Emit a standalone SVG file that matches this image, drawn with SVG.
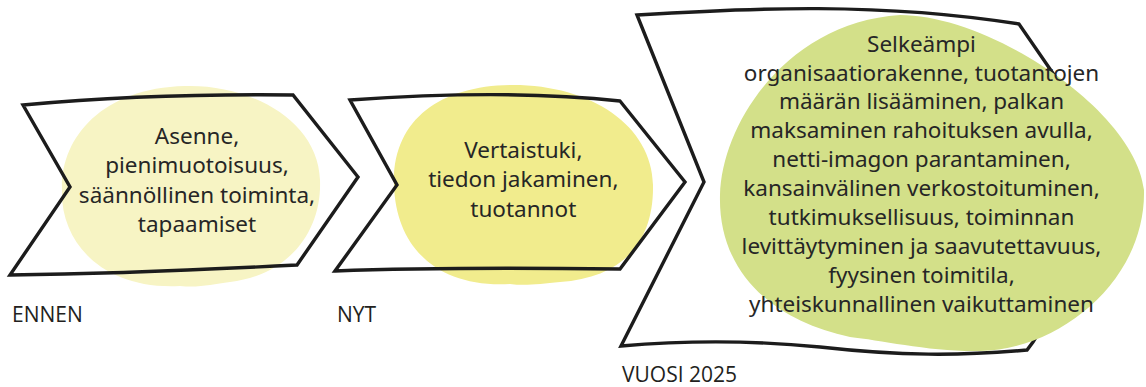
<svg xmlns="http://www.w3.org/2000/svg" width="1146" height="387" viewBox="0 0 1146 387">
<style>
.outline{fill:none;stroke:#1c1c1c;stroke-width:3.4;stroke-linejoin:miter;stroke-miterlimit:10}
.body{font-family:"Noto Sans",Lato,sans-serif;font-size:22.5px;fill:#262626;text-anchor:middle}
.label{font-family:"Open Sans","DejaVu Sans Condensed",sans-serif;font-size:21px;fill:#231f20}
</style>
<rect width="1146" height="387" fill="#ffffff"/>
<g id="node-ennen">
<path d="M62 190 C60 140 100 88 185 86 C250 84 318 120 320 180 C322 230 290 275 230 282 C212 284 200 288 180 286 C100 290 60 240 62 190 Z" fill="#f7f4c4"/>
<path class="outline" d="M23 105 C100 98 200 94 293 95 L358 177 L297 265 C200 270 100 274 10 275 L70 187 Z"/>
<text class="body" x="197" y="144">Asenne,</text>
<text class="body" x="197" y="173.3">pienimuotoisuus,</text>
<text class="body" x="197" y="202.7">säännöllinen toiminta,</text>
<text class="body" x="197" y="231.7">tapaamiset</text>
<text class="label" x="12" y="322">ENNEN</text>
</g>
<g id="node-nyt">
<path d="M394 185 C392 120 440 86 510 85 C590 84 652 125 653 185 C654 245 620 278 560 282 C540 284 525 286 510 284 C440 288 396 250 394 185 Z" fill="#f1ec8d"/>
<path class="outline" d="M350 100 C420 95 520 90 620 101 L685 182 L620 269 C540 268 440 267 335 271 L397 185 Z"/>
<text class="body" x="523.3" y="158.3">Vertaistuki,</text>
<text class="body" x="523.3" y="187.3">tiedon jakaminen,</text>
<text class="body" x="523.3" y="216.7">tuotannot</text>
<text class="label" x="337" y="322">NYT</text>
</g>
<g id="node-2025">
<path class="outline" d="M637 15 C750 8 880 2 1019 24 L1130 185 L1033 342 L1027 350 C960 356 900 356 820 347 C760 341 690 340 621 346 L704 182 Z"/>
<path d="M720 195 C722 120 790 22 900 15 C990 15 1135 110 1144 190 C1146 280 1060 350 980 351 C930 352 880 340 850 337 C770 320 718 270 720 195 Z" fill="#d3e089"/>
<text class="body" x="921.5" y="51.6">Selkeämpi</text>
<text class="body" x="921.5" y="80.5">organisaatiorakenne, tuotantojen</text>
<text class="body" x="921.5" y="109.4">määrän lisääminen, palkan</text>
<text class="body" x="921.5" y="138.3">maksaminen rahoituksen avulla,</text>
<text class="body" x="921.5" y="167.2">netti-imagon parantaminen,</text>
<text class="body" x="921.5" y="196.1">kansainvälinen verkostoituminen,</text>
<text class="body" x="921.5" y="225">tutkimuksellisuus, toiminnan</text>
<text class="body" x="921.5" y="253.9">levittäytyminen ja saavutettavuus,</text>
<text class="body" x="921.5" y="282.8">fyysinen toimitila,</text>
<text class="body" x="921.5" y="311.7">yhteiskunnallinen vaikuttaminen</text>
<text class="label" x="622" y="382">VUOSI 2025</text>
</g>
<g id="connectors"/>
</svg>
